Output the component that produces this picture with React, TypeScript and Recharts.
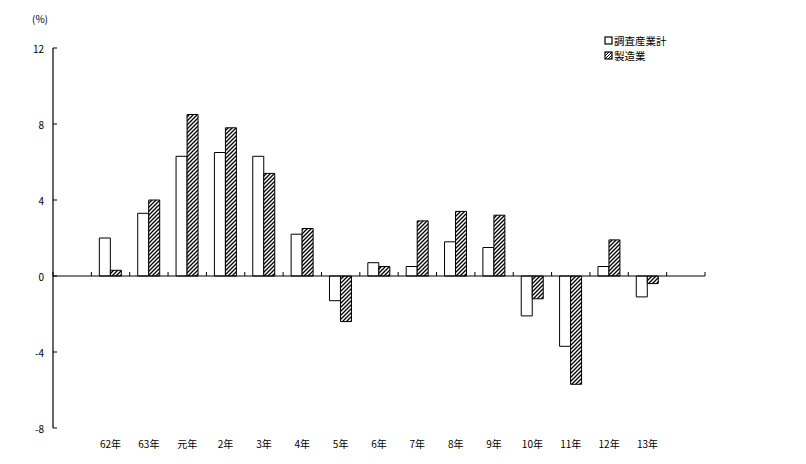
import React from "react";
import { Bar, BarChart, Legend, ReferenceLine, XAxis, YAxis } from "recharts";

// 空のカテゴリを両端に置いて、軸の余白を再現する
const categories: string[] = [
  "", "62年", "63年", "元年", "2年", "3年", "4年", "5年", "6年",
  "7年", "8年", "9年", "10年", "11年", "12年", "13年", "",
];
const totalValues: (number | null)[] = [
  null, 2.0, 3.3, 6.3, 6.5, 6.3, 2.2, -1.3, 0.7, 0.5, 1.8, 1.5, -2.1, -3.7, 0.5, -1.1, null,
];
const mfgValues: (number | null)[] = [
  null, 0.3, 4.0, 8.5, 7.8, 5.4, 2.5, -2.4, 0.5, 2.9, 3.4, 3.2, -1.2, -5.7, 1.9, -0.4, null,
];
const yTicks: number[] = [-8, -4, 0, 4, 8, 12];
const seriesNames = ["調査産業計", "製造業"];

const data = categories.map((name, i) => ({
  name,
  total: totalValues[i],
  mfg: mfgValues[i],
}));

const W = 790;
const H = 448;
const margin = { top: 40, right: 93, bottom: 0, left: 0 };
const Y_AXIS_W = 45;
const X_AXIS_H = 28;
const FONT = "'Noto Sans CJK JP', sans-serif";

const plotW = W - margin.left - margin.right - Y_AXIS_W;
const plotH = H - margin.top - margin.bottom - X_AXIS_H;
const bandW = plotW / categories.length;
const zeroY = margin.top + (12 / 20) * plotH;

const XTick = (props: any) => {
  const { x, y, payload, index } = props;
  const left = x - bandW / 2;
  return (
    <g>
      <line x1={left} x2={left} y1={zeroY - 4} y2={zeroY} stroke="#000" />
      {index === categories.length - 1 && (
        <line x1={x + bandW / 2} x2={x + bandW / 2} y1={zeroY - 4} y2={zeroY} stroke="#000" />
      )}
      <text x={x} y={y + 20} textAnchor="middle" fontSize={10} fontFamily={FONT} fill="#000">
        {payload.value}
      </text>
    </g>
  );
};

const YTick = (props: any) => {
  const { x, y, payload } = props;
  return (
    <g>
      <line x1={x} x2={x + 4} y1={y} y2={y} stroke="#000" />
      <text x={x - 9} y={y} textAnchor="end" dominantBaseline="central" fontSize={10} fontFamily={FONT} fill="#000">
        {payload.value}
      </text>
    </g>
  );
};

const LegendBox = () => (
  <div style={{ fontFamily: FONT, fontSize: 10.5, lineHeight: "15px", color: "#000" }}>
    {seriesNames.map((n, i) => (
      <div key={n} style={{ display: "flex", alignItems: "center" }}>
        <svg width={9} height={9} style={{ marginRight: 1 }}>
          <defs>
            <pattern id={`lg${i}`} patternUnits="userSpaceOnUse" width={3} height={3}>
              <path d="M-1,1 l2,-2 M0,3 l3,-3 M2,4 l2,-2" stroke="#000" strokeWidth={1} />
            </pattern>
          </defs>
          <rect x={1} y={1} width={7} height={7} fill={i === 0 ? "#fff" : `url(#lg${i})`} stroke="#000" strokeWidth={1.2} />
        </svg>
        <span>{n}</span>
      </div>
    ))}
  </div>
);

export default function App() {
  return (
    <div style={{ position: "relative", width: W, height: H }}>
      <div
        style={{
          position: "absolute",
          left: 24,
          top: 4,
          fontFamily: FONT,
          fontSize: 10,
          lineHeight: "14px",
        }}
      >
        (%)
      </div>
      <BarChart width={W} height={H} data={data} margin={margin} barGap={0} barSize={11}>
        <defs>
          <pattern id="hatch" patternUnits="userSpaceOnUse" width={4} height={4}>
            <rect width={4} height={4} fill="#fff" />
            <path d="M-1,1 l2,-2 M0,4 l4,-4 M3,5 l2,-2" stroke="#000" strokeWidth={1.3} />
          </pattern>
        </defs>
        <XAxis
          dataKey="name"
          height={X_AXIS_H}
          axisLine={false}
          tickLine={false}
          tickSize={0}
          tickMargin={0}
          interval={0}
          tick={<XTick />}
        />
        <YAxis
          width={Y_AXIS_W}
          domain={[-8, 12]}
          ticks={yTicks}
          axisLine={{ stroke: "#000", strokeWidth: 1.2 }}
          tickLine={false}
          tickSize={0}
          tickMargin={0}
          tick={<YTick />}
        />
        <ReferenceLine y={0} stroke="#000" strokeWidth={1.2} />
        <Legend
          layout="horizontal"
          verticalAlign="middle"
          content={<LegendBox />}
          wrapperStyle={{ position: "absolute", left: 596, top: 25, width: "auto" }}
        />
        <Bar dataKey="total" name={seriesNames[0]} fill="#fff" stroke="#000" strokeWidth={1} isAnimationActive={false} />
        <Bar dataKey="mfg" name={seriesNames[1]} fill="url(#hatch)" stroke="#000" strokeWidth={1} isAnimationActive={false} />
      </BarChart>
    </div>
  );
}
